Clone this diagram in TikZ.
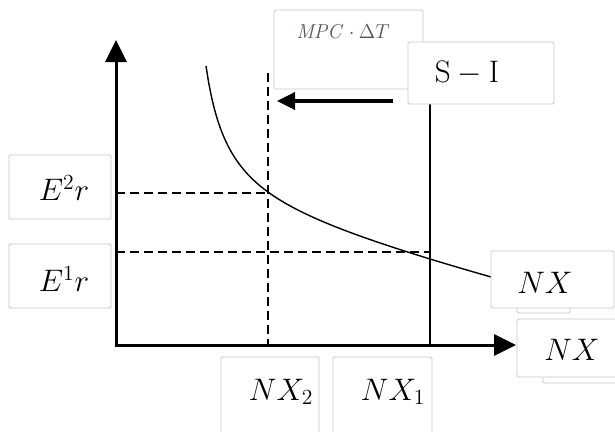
\documentclass[tikz,border=0pt]{standalone}
\usetikzlibrary{arrows.meta}
\newcommand{\lblmath}[1]{\scalebox{1.5}{$#1$}}
\definecolor{mpcgray}{RGB}{80,84,104}
\begin{document}
\begin{tikzpicture}[x=1pt,y=-1pt,
  lbox/.style={draw=black!22,line width=0.8pt,fill=white,rounded corners=1.5pt},
  lbl/.style={inner sep=0pt,font=\fontsize{20.74}{24}\selectfont},
  axis/.style={line width=3pt,-{Triangle[width=21pt,length=22pt]}},
  guide/.style={line width=2.2pt,dash pattern=on 9pt off 5pt},
  curve/.style={line width=1.4pt}]
\useasboundingbox (0,0) rectangle (615,431);
\clip (0,0) rectangle (615,431);
% axes
\coordinate (O) at (116,345);
\coordinate (ytip) at (116,40);
\coordinate (xtip) at (516,345);
\draw[axis] (O) -- (ytip);
\draw[axis] ([xshift=-1.5pt]O) -- (xtip);
% guide coordinates
\coordinate (E2a) at (116,193);
\coordinate (E2b) at (268,193);
\coordinate (E1a) at (116,252);
\coordinate (E1b) at (430,252);
\coordinate (X2top) at (268,73);
\coordinate (X2bot) at (268,345);
\coordinate (X1top) at (430,104);
\coordinate (X1bot) at (430,345);
\draw[guide] (E2a) -- (E2b);
\draw[guide] (E1a) -- (E1b);
\draw[guide] (X2top) -- (X2bot);
\draw[line width=1.6pt] (X1top) -- (X1bot);
% curve
\draw[curve] plot[domain=206:491,samples=120] (\x,{165.3-3408/(\x-183.4)+0.25*\x});
% left arrow
\coordinate (arS) at (393,101);
\coordinate (arE) at (277,101);
\draw[line width=3.5pt,-{Triangle[width=17pt,length=18pt]}] (arS) -- (arE);
% label boxes
\draw[lbox] (274,10) rectangle (423,89);
\node[inner sep=0pt,text=mpcgray,font=\fontsize{14.4}{16}\selectfont] (mpc) at (343,32) {\scalebox{1.4}{$\mathit{MPC}\cdot\Delta T$}};
\draw[lbox] (408,42) rectangle (554,104);
\node[lbl] (si) at (467,73) {\lblmath{\mathrm{S}-\mathrm{I}}};
\draw[lbox] (9,155) rectangle (111,219);
\node[lbl] (e2) at (64,188) {\lblmath{E^2r}};
\draw[lbox] (9,244) rectangle (111,308);
\node[lbl] (e1) at (64,279) {\lblmath{E^1r}};
\draw[lbox] (517,300) rectangle (570,313);
\draw[lbox] (491,251) rectangle (614,308);
\node[lbl] (nxc) at (545,283) {\lblmath{NX}};
\draw[lbox] (543,370) rectangle (620,383);
\draw[lbox] (517,319) rectangle (620,377);
\node[lbl] (nxa) at (572,350) {\lblmath{NX}};
\draw[lbox] (221,357) rectangle (319,440);
\node[lbl] (nx2) at (281,392) {\lblmath{NX_2}};
\draw[lbox] (333,357) rectangle (432,440);
\node[lbl] (nx1) at (393,392) {\lblmath{NX_1}};
\end{tikzpicture}
\end{document}
